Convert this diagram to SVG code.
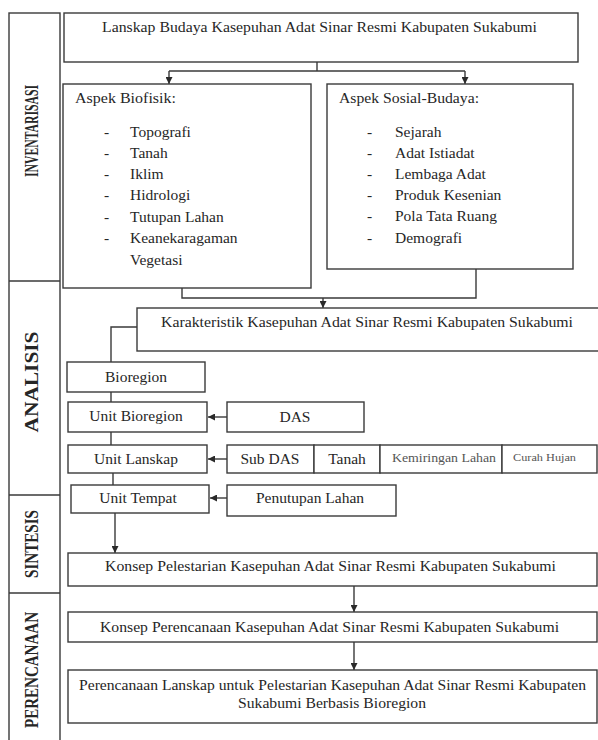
<svg xmlns="http://www.w3.org/2000/svg" width="598" height="740" viewBox="0 0 598 740">
<defs>
<style>
.b{fill:#fff;stroke:#3a3a3a;stroke-width:1.4}
.c{fill:none;stroke:#3a3a3a;stroke-width:1.4}
text{font-family:'Liberation Serif','DejaVu Serif',serif;fill:#262626;font-size:15.5px}
.m{text-anchor:middle}
.v{font-weight:bold;font-size:14px;text-anchor:middle}
.s{font-size:11.5px;fill:#555}
</style>
<marker id="ah" viewBox="0 0 10 10" refX="10" refY="5" markerWidth="7" markerHeight="7" orient="auto" markerUnits="userSpaceOnUse">
<path d="M0,0 L10,5 L0,10 z" fill="#2a2a2a"/>
</marker>
</defs>
<rect width="598" height="740" fill="#fff"/>

<g id="stages">
<rect class="b" x="9" y="13" width="51" height="740"/>
<line class="c" x1="9" y1="281" x2="60" y2="281"/>
<line class="c" x1="9" y1="495" x2="60" y2="495"/>
<line class="c" x1="9" y1="593" x2="60" y2="593"/>
<text class="v" transform="translate(38,131) rotate(-90) scale(1,1.3)" textLength="92" lengthAdjust="spacingAndGlyphs">INVENTARISASI</text>
<text class="v" transform="translate(38,382) rotate(-90) scale(1,1.3)" textLength="101" lengthAdjust="spacingAndGlyphs">ANALISIS</text>
<text class="v" transform="translate(38,544) rotate(-90) scale(1,1.3)" textLength="68" lengthAdjust="spacingAndGlyphs">SINTESIS</text>
<text class="v" transform="translate(38,670) rotate(-90) scale(1,1.3)" textLength="116" lengthAdjust="spacingAndGlyphs">PERENCANAAN</text>
</g>

<g id="connectors">
<polyline class="c" points="317,62 317,71"/>
<polyline class="c" points="169,71 465,71"/>
<line class="c" x1="169" y1="71" x2="169" y2="84" marker-end="url(#ah)"/>
<line class="c" x1="465" y1="71" x2="465" y2="84" marker-end="url(#ah)"/>
<polyline class="c" points="182,288 182,298 476,298 476,269"/>
<line class="c" x1="323" y1="298" x2="323" y2="308" marker-end="url(#ah)"/>
<polyline class="c" points="137,327 111,327 111,362"/>
<line class="c" x1="111" y1="392" x2="111" y2="402"/>
<line class="c" x1="111" y1="432" x2="111" y2="445"/>
<line class="c" x1="113" y1="473" x2="113" y2="485"/>
<line class="c" x1="227" y1="417" x2="208" y2="417" marker-end="url(#ah)"/>
<line class="c" x1="227" y1="459" x2="208" y2="459" marker-end="url(#ah)"/>
<line class="c" x1="227" y1="498" x2="210" y2="498" marker-end="url(#ah)"/>
<line class="c" x1="115" y1="513" x2="115" y2="553" marker-end="url(#ah)"/>
<line class="c" x1="354" y1="586" x2="354" y2="612" marker-end="url(#ah)"/>
<line class="c" x1="354" y1="642" x2="354" y2="670" marker-end="url(#ah)"/>
</g>

<g id="lanskap-budaya">
<rect class="b" x="64" y="13" width="514" height="49"/>
<text x="102" y="32" textLength="435" lengthAdjust="spacingAndGlyphs">Lanskap Budaya Kasepuhan Adat Sinar Resmi Kabupaten Sukabumi</text>
</g>

<g id="aspek-biofisik">
<rect class="b" x="63" y="84" width="248" height="204"/>
<text x="75" y="103" textLength="101" lengthAdjust="spacingAndGlyphs">Aspek Biofisik:</text>
<text x="104" y="137">-</text><text x="130" y="137">Topografi</text>
<text x="104" y="158">-</text><text x="130" y="158">Tanah</text>
<text x="104" y="179">-</text><text x="130" y="179">Iklim</text>
<text x="104" y="200">-</text><text x="130" y="200">Hidrologi</text>
<text x="104" y="222">-</text><text x="130" y="222">Tutupan Lahan</text>
<text x="104" y="243">-</text><text x="130" y="243">Keanekaragaman</text>
<text x="130" y="265">Vegetasi</text>
</g>

<g id="aspek-sosial-budaya">
<rect class="b" x="327" y="84" width="246" height="185"/>
<text x="339" y="103" textLength="140" lengthAdjust="spacingAndGlyphs">Aspek Sosial-Budaya:</text>
<text x="367" y="137">-</text><text x="395" y="137">Sejarah</text>
<text x="367" y="158">-</text><text x="395" y="158">Adat Istiadat</text>
<text x="367" y="179">-</text><text x="395" y="179">Lembaga  Adat</text>
<text x="367" y="200">-</text><text x="395" y="200">Produk Kesenian</text>
<text x="367" y="221">-</text><text x="395" y="221">Pola Tata Ruang</text>
<text x="367" y="243">-</text><text x="395" y="243">Demografi</text>
</g>

<g id="karakteristik">
<rect class="b" x="137" y="308" width="470" height="43"/>
<text x="161" y="327" textLength="412" lengthAdjust="spacingAndGlyphs">Karakteristik Kasepuhan Adat Sinar Resmi Kabupaten Sukabumi</text>
</g>

<g id="bioregion">
<rect class="b" x="67" y="362" width="138" height="30"/>
<text class="m" x="136" y="382">Bioregion</text>
</g>

<g id="unit-bioregion">
<rect class="b" x="68" y="402" width="139" height="30"/>
<text class="m" x="136" y="421">Unit Bioregion</text>
</g>

<g id="das">
<rect class="b" x="227" y="402" width="137" height="30"/>
<text class="m" x="295" y="422">DAS</text>
</g>

<g id="unit-lanskap">
<rect class="b" x="68" y="445" width="139" height="28"/>
<text class="m" x="136" y="464">Unit Lanskap</text>
</g>

<g id="sub-das">
<rect class="b" x="227" y="445" width="87" height="28"/>
<text class="m" x="270" y="464">Sub DAS</text>
</g>

<g id="tanah">
<rect class="b" x="314" y="445" width="66" height="28"/>
<text class="m" x="347" y="464">Tanah</text>
</g>

<g id="kemiringan-lahan">
<rect class="b" x="380" y="445" width="122" height="28"/>
<text class="s" x="392" y="462" textLength="104" lengthAdjust="spacingAndGlyphs">Kemiringan Lahan</text>
</g>

<g id="curah-hujan">
<rect class="b" x="502" y="445" width="95" height="28"/>
<text class="s" x="513" y="461" textLength="63" lengthAdjust="spacingAndGlyphs" style="font-size:10.5px">Curah Hujan</text>
</g>

<g id="unit-tempat">
<rect class="b" x="71" y="485" width="138" height="28"/>
<text class="m" x="138" y="503">Unit Tempat</text>
</g>

<g id="penutupan-lahan">
<rect class="b" x="227" y="485" width="169" height="31"/>
<text class="m" x="310" y="503">Penutupan Lahan</text>
</g>

<g id="konsep-pelestarian">
<rect class="b" x="68" y="553" width="529" height="33"/>
<text x="105" y="571" textLength="451" lengthAdjust="spacingAndGlyphs">Konsep Pelestarian Kasepuhan Adat Sinar Resmi Kabupaten Sukabumi</text>
</g>

<g id="konsep-perencanaan">
<rect class="b" x="68" y="612" width="529" height="30"/>
<text x="100" y="632" textLength="459" lengthAdjust="spacingAndGlyphs">Konsep Perencanaan Kasepuhan Adat Sinar Resmi Kabupaten Sukabumi</text>
</g>

<g id="perencanaan-lanskap">
<rect class="b" x="68" y="670" width="529" height="53"/>
<text x="79" y="690" textLength="507" lengthAdjust="spacingAndGlyphs">Perencanaan Lanskap untuk Pelestarian Kasepuhan Adat Sinar Resmi Kabupaten</text>
<text x="238" y="708" textLength="188" lengthAdjust="spacingAndGlyphs">Sukabumi Berbasis Bioregion</text>
</g>
</svg>
